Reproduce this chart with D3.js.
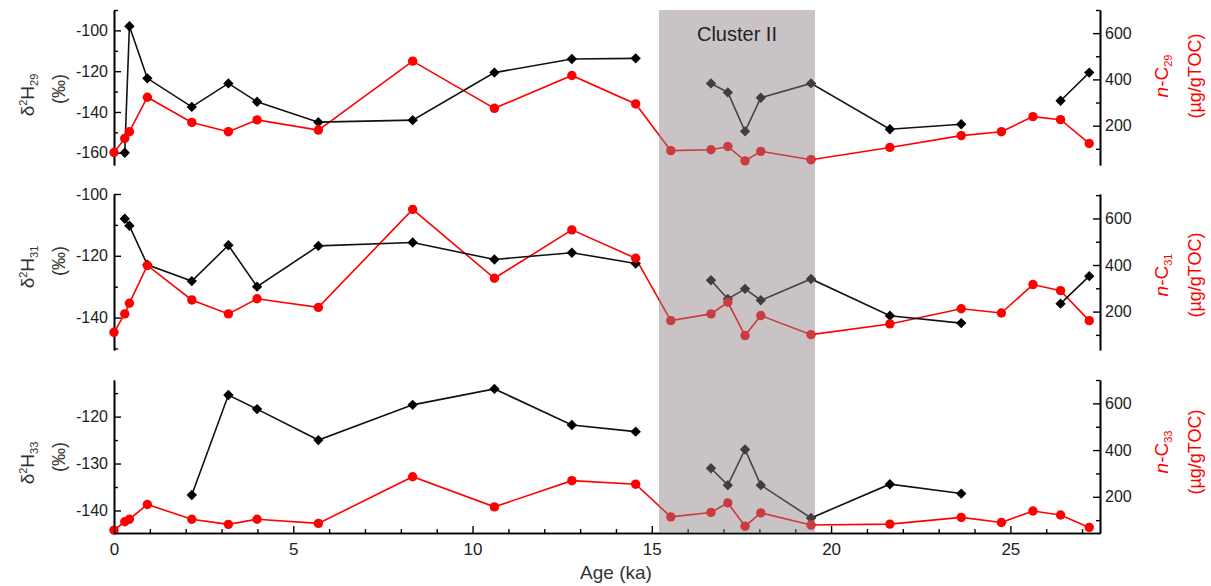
<!DOCTYPE html>
<html>
<head>
<meta charset="utf-8">
<script src="https://cdn.jsdelivr.net/npm/d3@7"></script>
<style>
  html, body { margin: 0; padding: 0; background: #fff; }
  svg { display: block; font-family: Arial, "Liberation Sans", sans-serif; }
</style>
</head>
<body>
<div id="container"></div>
<script>
// Sample ages (ka), shared by all three panels
const ages = [0, 0.3, 0.43, 0.93, 2.17, 3.19, 3.99, 5.7, 8.33, 10.61, 12.77, 14.55,
  15.53, 16.65, 17.12, 17.6, 18.04, 19.44, 21.64, 23.63, 24.75, 25.63, 26.4, 27.2];

// δ2H (‰), null = no measurement (line breaks there)
const d2H29 = [null, -160, -98, -123.5, -137.5, -126, -135, -145, -144, -120.7, -114, -113.7,
  null, -126, -130.4, -149.5, -133, -126, -148.5, -146, null, null, -134.5, -120.7];
const d2H31 = [null, -108, -110.3, -122.9, -128.2, -116.6, -130, -116.8, -115.7, -121.2, -119, -122.5,
  null, -127.9, -134, -130.7, -134.4, -127.5, -139.4, -141.8, null, null, -135.5, -126.6];
const d2H33 = [null, null, null, null, -136.7, -115.4, -118.4, -125, -117.5, -114.1, -121.8, -123.2,
  null, -131, -134.6, -127, -134.6, -141.6, -134.4, -136.4, null, null, null, null];

// n-alkane concentration (µg/gTOC)
const nC29 = [84, 145, 174, 323, 214, 174, 225, 181, 479, 275, 417, 294,
  92, 96, 110, 48, 89, 53, 106, 157, 174, 239, 226, 123];
const nC31 = [111, 190, 236, 398, 250, 190, 255, 218, 639, 343, 551, 429,
  161, 190, 240, 97, 183, 101, 147, 212, 194, 316, 290, 161];
const nC33 = [57, 93, 104, 167, 104, 82, 104, 86, 286, 157, 269, 254,
  114, 133, 174, 74, 131, 79, 83, 112, 90, 139, 122, 69];

// Cluster II interval (ka)
const clusterII = [15.2, 19.55];
const xTicks = [0, 5, 10, 15, 20, 25];

const width = 1211, height = 586;
const left = 114, right = 1100, axisY = 533;

const panels = [
  { d: d2H29, n: nC29, sub: "29", top: 10, bottom: 165, dDom: [-166, -90], dStep: 10, dLab: 20, nDom: [30, 700], lY: 95, rY: 76 },
  { d: d2H31, n: nC31, sub: "31", top: 194, bottom: 350, dDom: [-150.5, -100], dStep: 10, dLab: 20, nDom: [35, 705], lY: 267, rY: 275 },
  { d: d2H33, n: nC33, sub: "33", top: 380, bottom: 533, dDom: [-144.8, -112.2], dStep: 5, dLab: 10, nDom: [45, 700], lY: 463, rY: 452 }
];

const svg = d3.select("#container").append("svg")
  .attr("width", width).attr("height", height);

const x = d3.scaleLinear().domain([0, 27.5]).range([left, right]);

const ink = "#000", red = "#ff0000", tickInk = "#222";
const plain = v => String(v);   // keep the ASCII hyphen like the original

function styleAxis(g, fs) {
  g.select(".domain").attr("stroke", ink).attr("stroke-width", 1.6);
  g.selectAll(".tick line").attr("stroke", ink).attr("stroke-width", 1.4);
  g.selectAll("text").attr("fill", tickInk).style("font-size", fs + "px")
    .style("font-family", "Arial, 'Liberation Sans', sans-serif");
}

const diamond = d3.symbol().type(d3.symbolSquare).size(54);

panels.forEach(p => {
  const yL = d3.scaleLinear().domain(p.dDom).range([p.bottom, p.top]);
  const yR = d3.scaleLinear().domain(p.nDom).range([p.bottom, p.top]);

  // left axis: majors labelled, minors in between
  const lAll = d3.range(Math.ceil(p.dDom[0] / p.dStep) * p.dStep, p.dDom[1] + 0.01, p.dStep);
  const lMaj = lAll.filter(v => Math.abs(v % p.dLab) < 1e-6);
  const lMin = lAll.filter(v => Math.abs(v % p.dLab) >= 1e-6);
  const gl = svg.append("g").attr("transform", `translate(${left},0)`)
    .call(d3.axisLeft(yL).tickValues(lMaj).tickFormat(plain).tickSizeInner(-7).tickSizeOuter(0).tickPadding(6));
  styleAxis(gl, 16);
  const glm = svg.append("g").attr("transform", `translate(${left},0)`)
    .call(d3.axisLeft(yL).tickValues(lMin).tickSizeInner(-4).tickSizeOuter(0).tickFormat(""));
  styleAxis(glm, 16);

  // right axis
  const rAll = d3.range(100, p.nDom[1] + 0.01, 100);
  const gr = svg.append("g").attr("transform", `translate(${right},0)`)
    .call(d3.axisRight(yR).tickValues(rAll.filter(v => v % 200 === 0)).tickFormat(plain).tickSizeInner(-7).tickSizeOuter(0).tickPadding(5));
  styleAxis(gr, 16);
  const grm = svg.append("g").attr("transform", `translate(${right},0)`)
    .call(d3.axisRight(yR).tickValues(rAll.filter(v => v % 200 !== 0)).tickSizeInner(-4).tickSizeOuter(0).tickFormat(""));
  styleAxis(grm, 16);

  // series
  const rows = ages.map((a, i) => ({ a, d: p.d[i], n: p.n[i] }));

  const lineN = d3.line().x(r => x(r.a)).y(r => yR(r.n));
  svg.append("path").datum(rows).attr("d", lineN)
    .attr("fill", "none").attr("stroke", red).attr("stroke-width", 1.6);

  const lineD = d3.line().defined(r => r.d != null).x(r => x(r.a)).y(r => yL(r.d));
  svg.append("path").datum(rows).attr("d", lineD)
    .attr("fill", "none").attr("stroke", "#111").attr("stroke-width", 1.6);

  svg.append("g").selectAll("path").data(rows.filter(r => r.d != null)).join("path")
    .attr("d", diamond)
    .attr("transform", r => `translate(${x(r.a)},${yL(r.d)}) rotate(45)`)
    .attr("fill", ink);

  svg.append("g").selectAll("circle").data(rows).join("circle")
    .attr("cx", r => x(r.a)).attr("cy", r => yR(r.n)).attr("r", 4.7)
    .attr("fill", red);

  // left label: δ2H_xx (‰)
  const lt = svg.append("text")
    .attr("transform", `translate(34,${p.lY}) rotate(-90)`)
    .attr("text-anchor", "middle").attr("fill", "#333").style("font-size", "19px");
  lt.append("tspan").text("δ");
  lt.append("tspan").attr("dy", -7).style("font-size", "11px").text("2");
  lt.append("tspan").attr("dy", 7).text("H");
  lt.append("tspan").attr("dy", 4).style("font-size", "11px").text(p.sub);
  svg.append("text")
    .attr("transform", `translate(65,${p.lY - 6}) rotate(-90)`)
    .attr("text-anchor", "middle").attr("fill", "#333").style("font-size", "18px")
    .text("(‰)");

  // right label: n-Cxx (µg/gTOC)
  const rt = svg.append("text")
    .attr("transform", `translate(1168,${p.rY}) rotate(-90)`)
    .attr("text-anchor", "middle").attr("fill", red).style("font-size", "19px");
  rt.append("tspan").style("font-style", "italic").text("n");
  rt.append("tspan").text("-C");
  rt.append("tspan").attr("dy", 4).style("font-size", "11px").text(p.sub);
  svg.append("text")
    .attr("transform", `translate(1201,${p.rY}) rotate(-90)`)
    .attr("text-anchor", "middle").attr("fill", red).style("font-size", "18px")
    .text("(µg/gTOC)");
});

// bottom x axis
const gxm = svg.append("g").attr("transform", `translate(0,${axisY})`)
  .call(d3.axisBottom(x).tickValues(d3.range(1, 28).filter(v => v % 5 !== 0)).tickSizeInner(-4).tickSizeOuter(0).tickFormat(""));
styleAxis(gxm, 17);
const gx = svg.append("g").attr("transform", `translate(0,${axisY})`)
  .call(d3.axisBottom(x).tickValues(xTicks).tickFormat(plain).tickSizeInner(-7).tickSizeOuter(0).tickPadding(10));
styleAxis(gx, 17);

svg.append("text")
  .attr("x", 616).attr("y", 579).attr("text-anchor", "middle")
  .attr("fill", "#333").style("font-size", "19px").text("Age (ka)");

// Cluster II shading drawn over the data (semi-transparent)
svg.append("rect")
  .attr("x", x(clusterII[0])).attr("y", 10)
  .attr("width", x(clusterII[1]) - x(clusterII[0])).attr("height", axisY - 10)
  .attr("fill", "rgb(141,127,133)").attr("fill-opacity", 0.47);

svg.append("text")
  .attr("x", (x(clusterII[0]) + x(clusterII[1])) / 2).attr("y", 41)
  .attr("text-anchor", "middle").attr("fill", "#222").style("font-size", "20px")
  .text("Cluster II");
</script>
</body>
</html>
